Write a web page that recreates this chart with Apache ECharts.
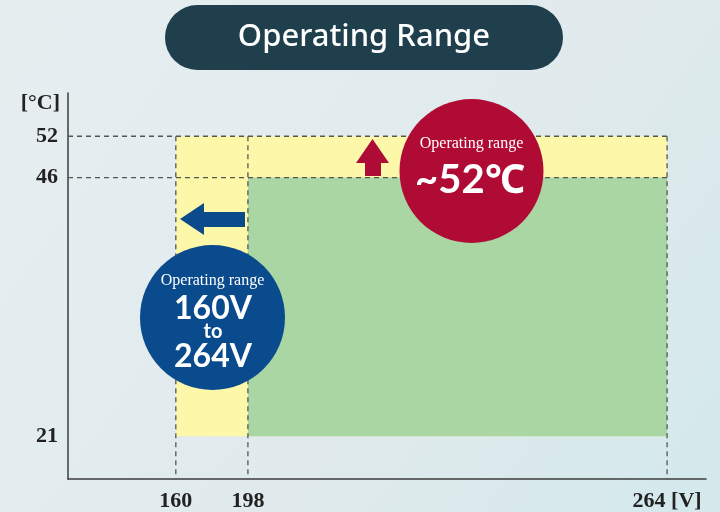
<!DOCTYPE html>
<html>
<head>
<meta charset="utf-8">
<script src="https://cdn.jsdelivr.net/npm/echarts@6/dist/echarts.min.js"></script>
<style>
  html, body { margin: 0; padding: 0; }
  #main { width: 720px; height: 512px; }
</style>
</head>
<body>
<div id="main"></div>
<script>
// tick values
var xTicks = [160, 198, 264]
var yTicks = [21, 46, 52]
// the axes are schematic: where each tick sits along its axis (0..1)
var xTickPos = [0.169, 0.282, 0.939]
var yTickPos = [0.111, 0.781, 0.888]

// extended range (yellow) and standard range (green)
var extVolt = [160, 264]
var extTemp = [21, 52]
var stdVolt = [198, 264]
var stdTemp = [21, 46]

var labelFont = 'Liberation Serif'
var sansFont = 'Lato, "Noto Sans", sans-serif'

// piecewise scale: real value -> position along the axis
function toPos (v, ticks, pos) {
    for (var i = 0; i < ticks.length; i++) {
        if (ticks[i] === v) return pos[i]
    }
    for (var j = 0; j < ticks.length - 1; j++) {
        if (v > ticks[j] && v < ticks[j + 1]) {
            return pos[j] + (v - ticks[j]) / (ticks[j + 1] - ticks[j]) * (pos[j + 1] - pos[j])
        }
    }
    return v < ticks[0] ? 0 : 1
}
function px (v) { return toPos(v, xTicks, xTickPos) }
function py (v) { return toPos(v, yTicks, yTickPos) }
function tickLabel (val, ticks, pos) {
    for (var i = 0; i < pos.length; i++) {
        if (Math.abs(pos[i] - val) < 1e-6) return String(ticks[i])
    }
    return ''
}

var dash = { color: '#555', width: 1.3, type: [5, 4] }
function dashSeries (pts) {
    return {
        type: 'line',
        data: pts,
        symbol: 'none',
        silent: true,
        z: 5,
        lineStyle: dash
    }
}

var tMax = yTicks[yTicks.length - 1]
var vMax = xTicks[xTicks.length - 1]

var series = [{
    type: 'line',
    data: [],
    markArea: {
        silent: true,
        data: [
            [{ coord: [px(extVolt[0]), py(extTemp[1])], itemStyle: { color: '#fdf7a9' } },
             { coord: [px(extVolt[1]), py(extTemp[0])] }],
            [{ coord: [px(stdVolt[0]), py(stdTemp[1])], itemStyle: { color: '#a9d6a3' } },
             { coord: [px(stdVolt[1]), py(stdTemp[0])] }]
        ]
    }
}]
// horizontal guides at 52 and 46
series.push(dashSeries([[0, py(tMax)], [px(vMax), py(tMax)]]))
series.push(dashSeries([[0, py(stdTemp[1])], [px(vMax), py(stdTemp[1])]]))
// vertical guides at each voltage tick
xTicks.forEach(function (v) {
    series.push(dashSeries([[px(v), py(tMax)], [px(v), 0]]))
})

var chart = echarts.init(document.getElementById('main'))
chart.setOption({
    backgroundColor: {
        type: 'linear', x: 0, y: 0, x2: 1, y2: 1,
        colorStops: [
            { offset: 0, color: '#e6eef0' },
            { offset: 0.6, color: '#e0eaec' },
            { offset: 1, color: '#d3e9ec' }
        ]
    },
    animation: false,
    grid: { left: 68, right: 14, top: 93, bottom: 28, containLabel: false },
    xAxis: {
        type: 'value',
        min: 0,
        max: 1,
        splitLine: { show: false },
        axisTick: { show: false },
        axisLine: { lineStyle: { color: '#3c3c3c', width: 1.5 } },
        axisLabel: {
            customValues: xTickPos,
            margin: 11,
            color: '#222',
            fontFamily: labelFont,
            fontWeight: 'bold',
            fontSize: 22,
            formatter: function (val) {
                var s = tickLabel(val, xTicks, xTickPos)
                return s === String(vMax) ? s + ' [V]' : s
            }
        }
    },
    yAxis: {
        type: 'value',
        min: 0,
        max: 1,
        name: '[°C]',
        nameLocation: 'end',
        nameGap: -10,
        nameTextStyle: {
            align: 'right',
            verticalAlign: 'middle',
            padding: [0, 8, 0, 0],
            color: '#222',
            fontFamily: labelFont,
            fontWeight: 'bold',
            fontSize: 22
        },
        splitLine: { show: false },
        axisTick: { show: false },
        axisLine: { lineStyle: { color: '#3c3c3c', width: 1.5 } },
        axisLabel: {
            customValues: yTickPos,
            margin: 10,
            color: '#222',
            fontFamily: labelFont,
            fontWeight: 'bold',
            fontSize: 22,
            formatter: function (val) {
                return tickLabel(val, yTicks, yTickPos)
            }
        }
    },
    series: series,
    graphic: [
        // title pill
        { type: 'rect', shape: { x: 165, y: 5, width: 398, height: 65, r: 32.5 }, style: { fill: '#1e3f4b' }, z: 10 },
        { type: 'text', x: 364, y: 37, z: 11, style: { text: 'Operating Range', fill: '#fff', font: '500 31px "Noto Sans", sans-serif', align: 'center', verticalAlign: 'middle' } },
        // voltage arrow + badge
        { type: 'polygon', z: 10, shape: { points: [[180, 219], [204, 203], [204, 212], [245, 212], [245, 227], [204, 227], [204, 235]] }, style: { fill: '#0b4b8c' } },
        { type: 'circle', z: 10, shape: { cx: 212.5, cy: 317.5, r: 72.5 }, style: { fill: '#0a4b8d' } },
        { type: 'text', x: 212.5, y: 281, z: 11, style: { text: 'Operating range', fill: '#fff', font: '16px "Liberation Serif", serif', align: 'center', verticalAlign: 'middle' } },
        { type: 'text', x: 213, y: 309, z: 11, style: { text: '160V', fill: '#fff', font: 'bold 32px ' + sansFont, align: 'center', verticalAlign: 'middle' } },
        { type: 'text', x: 213, y: 332, z: 11, style: { text: 'to', fill: '#fff', font: 'bold 20px ' + sansFont, align: 'center', verticalAlign: 'middle' } },
        { type: 'text', x: 213, y: 357, z: 11, style: { text: '264V', fill: '#fff', font: 'bold 32px ' + sansFont, align: 'center', verticalAlign: 'middle' } },
        // temperature arrow + badge
        { type: 'polygon', z: 10, shape: { points: [[372.5, 139], [389, 163], [381, 163], [381, 176], [365, 176], [365, 163], [356, 163]] }, style: { fill: '#ae0c36' } },
        { type: 'circle', z: 10, shape: { cx: 471.5, cy: 171, r: 72 }, style: { fill: '#b00b35' } },
        { type: 'text', x: 471.5, y: 144, z: 11, style: { text: 'Operating range', fill: '#fff', font: '16px "Liberation Serif", serif', align: 'center', verticalAlign: 'middle' } },
        { type: 'text', x: 470, y: 180, z: 11, style: { text: '~52℃', fill: '#fff', font: 'bold 40px ' + sansFont, align: 'center', verticalAlign: 'middle' } }
    ]
})
</script>
</body>
</html>
